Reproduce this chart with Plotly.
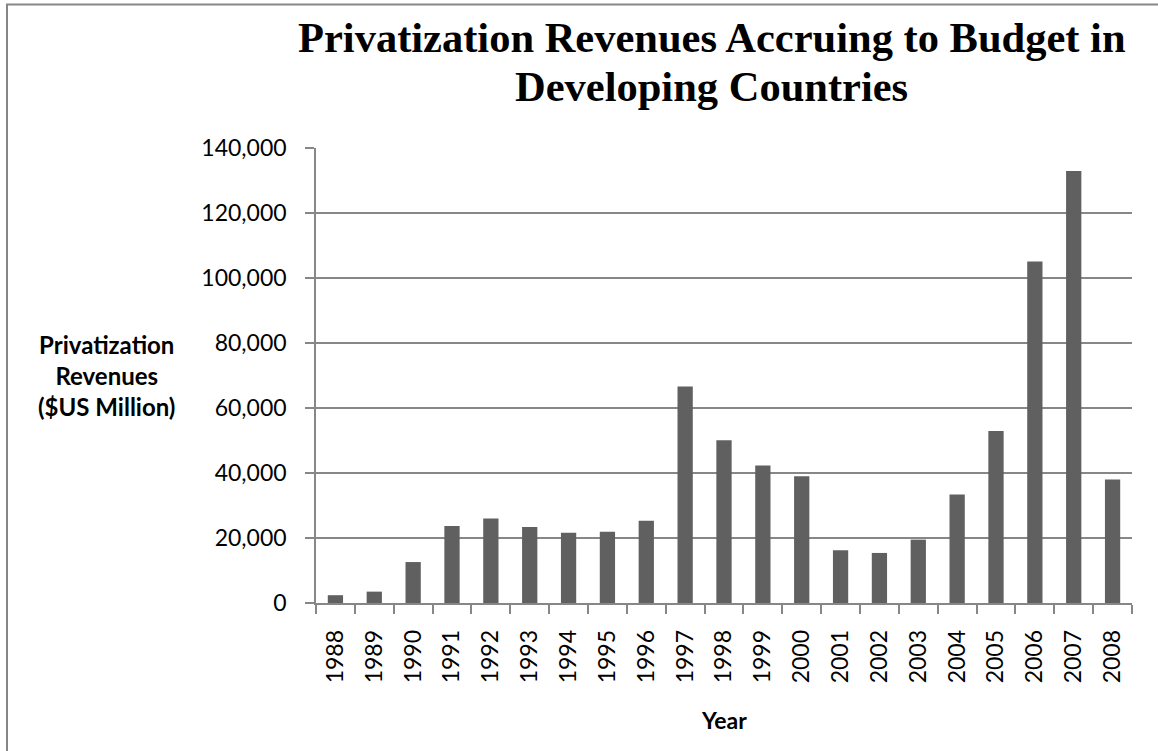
import plotly.graph_objects as go

years = ["1988", "1989", "1990", "1991", "1992", "1993", "1994", "1995", "1996", "1997",
         "1998", "1999", "2000", "2001", "2002", "2003", "2004", "2005", "2006", "2007", "2008"]
revenues = [2400, 3500, 12600, 23700, 26000, 23400, 21600, 21900, 25300, 66600,
            50100, 42300, 39000, 16200, 15400, 19500, 33400, 52900, 105100, 132900, 38000]
y_ticks = [0, 20000, 40000, 60000, 80000, 100000, 120000, 140000]

title_lines = ["Privatization Revenues Accruing to Budget in", "Developing Countries"]
y_title = "Privatization<br>Revenues<br>($US Million)"
x_title = "Year"

W, H = 1158, 751
L, R, T, B = 316, 26, 148, 148
PW, PH = W - L - R, H - T - B

def px_x(px):
    return (px - L) / PW

def px_y(py):
    return (H - B - py) / PH

grid_col = "#878787"
font_main = "Lato, Calibri, Arial, sans-serif"

fig = go.Figure(go.Bar(x=years, y=revenues, marker=dict(color="#606060", line=dict(width=0))))

fig.update_layout(
    width=W, height=H,
    margin=dict(l=L, r=R, t=T, b=B, pad=0),
    paper_bgcolor="white", plot_bgcolor="white",
    showlegend=False,
    bargap=0.607,
    font=dict(family=font_main, size=23, color="black"),
    xaxis=dict(
        type="category", tickangle=-90, ticks="outside", ticklen=9, tickwidth=1.6,
        tickcolor=grid_col, tickson="boundaries", showline=True, linecolor=grid_col,
        linewidth=1.6, showgrid=False, ticklabelstandoff=16,
        tickfont=dict(family=font_main, size=23, color="black"),
    ),
    yaxis=dict(
        range=[0, 140000], tickvals=y_ticks, tickformat=",d", ticks="outside", ticklen=9,
        tickwidth=1.6, tickcolor=grid_col, showline=True, linecolor=grid_col, linewidth=1.6,
        showgrid=True, gridcolor=grid_col, gridwidth=1.6, zeroline=False,
        ticklabelstandoff=14,
        tickfont=dict(family=font_main, size=23, color="black"),
    ),
)

ann = []
title_y_px = [38, 86]
for line, ypx in zip(title_lines, title_y_px):
    ann.append(dict(text=line, xref="paper", yref="paper", x=px_x(711.5), y=px_y(ypx),
                    xanchor="center", yanchor="middle", showarrow=False,
                    font=dict(family="Liberation Serif, Times New Roman, serif", size=42.5,
                              color="black", weight="bold")))
ann.append(dict(text=y_title, xref="paper", yref="paper", x=px_x(106), y=px_y(375),
                xanchor="center", yanchor="middle", showarrow=False, align="center",
                font=dict(family=font_main, size=24, color="black", weight="bold")))
ann.append(dict(text=x_title, xref="paper", yref="paper", x=px_x(724), y=px_y(720),
                xanchor="center", yanchor="middle", showarrow=False,
                font=dict(family=font_main, size=23, color="black", weight="bold")))
fig.update_layout(annotations=ann)

fig.add_shape(type="rect", xref="paper", yref="paper",
              x0=px_x(7), y0=px_y(800), x1=px_x(1200), y1=px_y(4.5),
              line=dict(color="#868686", width=2), fillcolor="rgba(0,0,0,0)", layer="above")

fig.write_html("out.html")
